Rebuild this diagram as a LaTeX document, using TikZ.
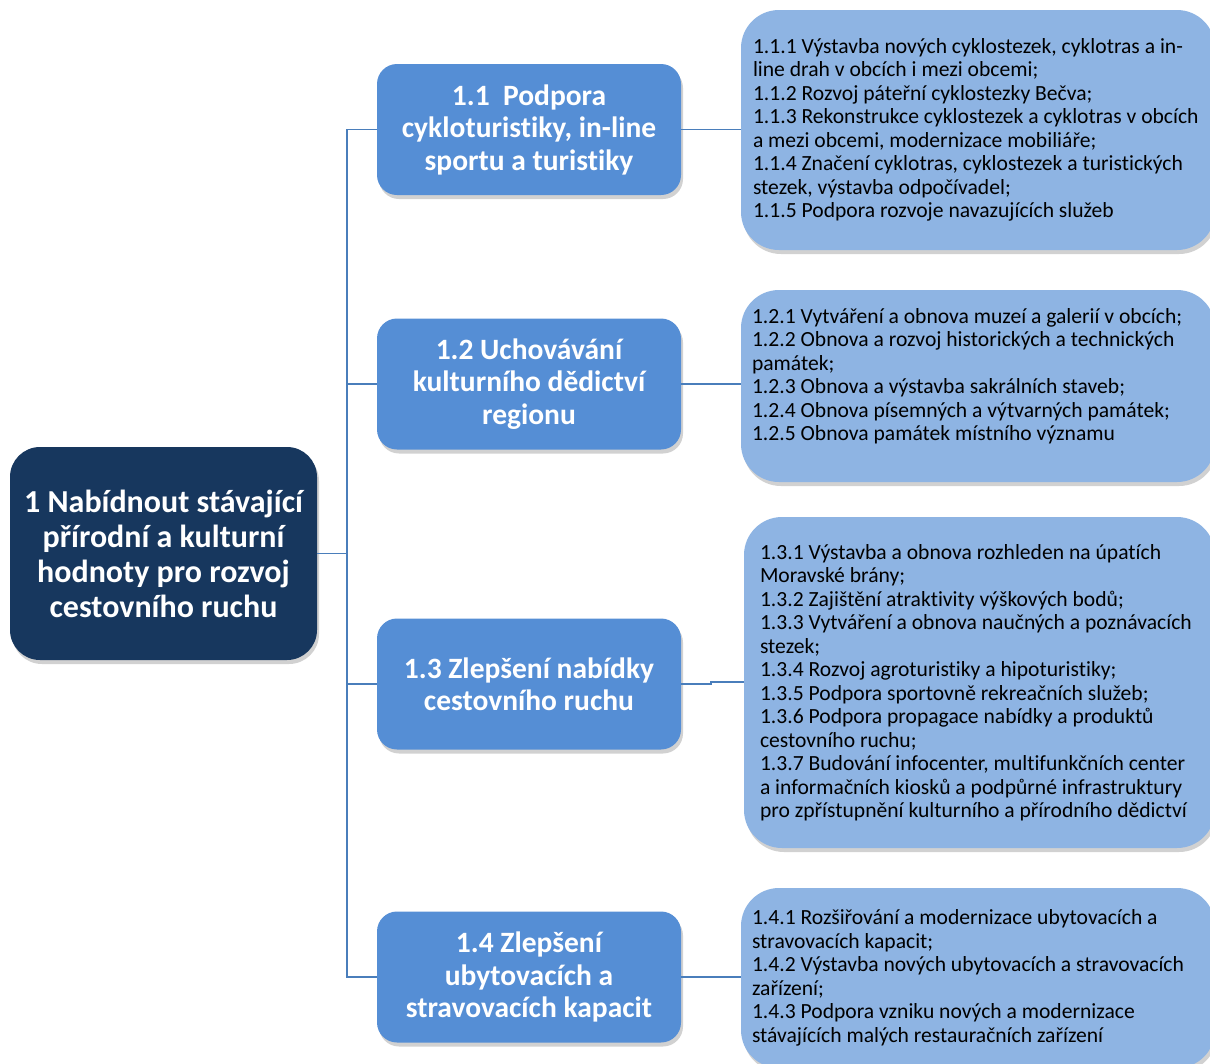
\documentclass[tikz,border=0pt]{standalone}
\usepackage{fontspec}
\setmainfont{Carlito}[Ligatures=NoCommon]
\usetikzlibrary{shadows}
\definecolor{rootc}{HTML}{17375E}
\definecolor{midc}{HTML}{558ED5}
\definecolor{rightc}{HTML}{8EB4E3}
\definecolor{linec}{HTML}{4A7EBB}
\tikzset{
  x=1pt, y=-1pt,
  shad/.style={drop shadow={shadow xshift=2pt, shadow yshift=-4pt, opacity=0.3, fill=black!60}},
  rootbox/.style={shad, fill=rootc, rounded corners=30pt, minimum width=307pt, minimum height=213pt,
    text=white, align=center, font=\fontsize{32}{35}\selectfont\bfseries, inner sep=0pt},
  midbox/.style={shad, fill=midc, rounded corners=20pt, minimum width=304pt, minimum height=131pt,
    text=white, align=center, font=\fontsize{29.5}{32.5}\selectfont\bfseries, inner sep=0pt},
  rightbox/.style={shad, fill=rightc, rounded corners=38pt, minimum width=474pt,
    text=black, align=left, font=\fontsize{21.6}{23.5}\selectfont, inner sep=0pt},
  conn/.style={draw=linec, line width=1.5pt},
}
\begin{document}
\begin{tikzpicture}
\useasboundingbox (0,0) rectangle (1210,1063);
\clip (0,0) rectangle (1210,1063);

\node[rootbox] (root) at (163.5,553.5) {1 Nabídnout stávající\\přírodní a kulturní\\hodnoty pro rozvoj\\cestovního ruchu};

\node[midbox] (m1) at (529,129.5) {1.1\ \ Podpora\\cykloturistiky, in-line\\sportu a turistiky};
\node[midbox] (m2) at (529,384) {1.2 Uchovávání\\kulturního dědictví\\regionu};
\node[midbox] (m3) at (529,684) {1.3 Zlepšení nabídky\\cestovního ruchu};
\node[midbox] (m4) at (529,977) {1.4 Zlepšení\\ubytovacích a\\stravovacích kapacit};

\node[rightbox, minimum height=240pt] (r1) at (978,130) {\makebox[450pt][l]{\parbox{450pt}{%
1.1.1 Výstavba nových cyklostezek, cyklotras a in-\\
line drah v obcích i mezi obcemi;\\
1.1.2 Rozvoj páteřní cyklostezky Bečva;\\
1.1.3 Rekonstrukce cyklostezek a cyklotras v obcích\\
a mezi obcemi, modernizace mobiliáře;\\
1.1.4 Značení cyklotras, cyklostezek a turistických\\
stezek, výstavba odpočívadel;\\
1.1.5 Podpora rozvoje navazujících služeb}}};

\node[rightbox, minimum height=192pt] (r2) at (978,386) {\makebox[452pt][l]{\parbox{452pt}{%
1.2.1 Vytváření a obnova muzeí a galerií v obcích;\\
1.2.2 Obnova a rozvoj historických a technických\\
památek;\\
1.2.3 Obnova a výstavba sakrálních staveb;\\
1.2.4 Obnova písemných a výtvarných památek;\\
1.2.5 Obnova památek místního významu\\
\mbox{}}}};

\node[rightbox, minimum width=471pt, minimum height=331pt] (r3) at (979.5,682.5) {\makebox[439pt][l]{\parbox{439pt}{%
1.3.1 Výstavba a obnova rozhleden na úpatích\\
Moravské brány;\\
1.3.2 Zajištění atraktivity výškových bodů;\\
1.3.3 Vytváření a obnova naučných a poznávacích\\
stezek;\\
1.3.4 Rozvoj agroturistiky a hipoturistiky;\\
1.3.5 Podpora sportovně rekreačních služeb;\\
1.3.6 Podpora propagace nabídky a produktů\\
cestovního ruchu;\\
1.3.7 Budování infocenter, multifunkčních center\\
a informačních kiosků a podpůrné infrastruktury\\
pro zpřístupnění kulturního a přírodního dědictví}}};

\node[rightbox, minimum height=180pt] (r4) at (978,978) {\makebox[452pt][l]{\parbox{452pt}{%
1.4.1 Rozšiřování a modernizace ubytovacích a\\
stravovacích kapacit;\\
1.4.2 Výstavba nových ubytovacích a stravovacích\\
zařízení;\\
1.4.3 Podpora vzniku nových a modernizace\\
stávajících malých restauračních zařízení}}};

\coordinate (trunk) at (347,553.5);
\draw[conn] (root.east) -- (trunk);
\draw[conn] (m1.west) -- (m1.west -| trunk) -- (m4.west -| trunk) -- (m4.west);
\draw[conn] (m2.west) -- (m2.west -| trunk);
\draw[conn] (m3.west) -- (m3.west -| trunk);

\draw[conn] (m1.east) -- (m1.east -| r1.west);
\draw[conn] (m2.east) -- (m2.east -| r2.west);
\draw[conn] (m3.east) -- ++(30,0) coordinate (jog) -- ([yshift=2pt]jog) -- ([yshift=2pt]jog -| r3.west);
\draw[conn] (m4.east) -- (m4.east -| r4.west);
\end{tikzpicture}
\end{document}
